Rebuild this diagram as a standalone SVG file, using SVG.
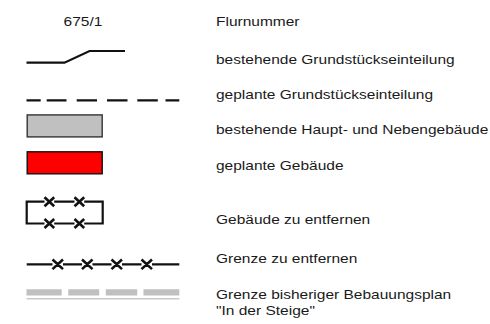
<svg xmlns="http://www.w3.org/2000/svg" width="490" height="324" viewBox="0 0 490 324">
<style>
.t{font-family:"Liberation Sans",Arial,sans-serif;font-size:12.5px;fill:#1a1a1a}
.ln{fill:none;stroke:#111;stroke-width:2.2}
.x{fill:none;stroke:#111;stroke-width:2.6}
</style>
<rect width="490" height="324" fill="#fff"/>
<g id="flurnummer">
<g transform="translate(83 26) scale(1.24 1)"><text class="t" x="0" y="0" text-anchor="middle">675/1</text></g>
<g transform="translate(216 25.7) scale(1.24 1)"><text class="t" x="0" y="0">Flurnummer</text></g>
</g>
<g id="bestehende-grenze">
<path class="ln" d="M26.5 62.7H64.5L89.5 51H125"/>
<g transform="translate(216 64) scale(1.24 1)"><text class="t" x="0" y="0">bestehende Grundstückseinteilung</text></g>
</g>
<g id="geplante-grenze">
<path class="ln" d="M26.5 100.3H40.7M46.7 100.3H66.5M76.7 100.3H97M107 100.3H127.5M137.3 100.3H157.8M165.5 100.3H179.3"/>
<g transform="translate(216 99) scale(1.24 1)"><text class="t" x="0" y="0">geplante Grundstückseinteilung</text></g>
</g>
<g id="bestehende-gebaeude">
<rect x="27.2" y="114.9" width="75" height="22" fill="#c0c0c0" stroke="#333" stroke-width="1.4"/>
<g transform="translate(216 134.2) scale(1.24 1)"><text class="t" x="0" y="0">bestehende Haupt- und Nebengebäude</text></g>
</g>
<g id="geplante-gebaeude">
<rect x="27.2" y="151.8" width="75" height="22" fill="#ff0000" stroke="#111" stroke-width="1.4"/>
<g transform="translate(216 169.5) scale(1.24 1)"><text class="t" x="0" y="0">geplante Gebäude</text></g>
</g>
<g id="gebaeude-entfernen">
<path class="ln" d="M44.5 201.7H26.7V223.5H44.5M54.2 201.7H74.5M84.2 201.7H102.7V223.5H84.2M54.2 223.5H74.5"/>
<path class="x" d="M44.5 197.2L54.2 206.2M54.2 197.2L44.5 206.2M74.5 197.2L84.2 206.2M84.2 197.2L74.5 206.2M44.5 219L54.2 228M54.2 219L44.5 228M74.5 219L84.2 228M84.2 219L74.5 228"/>
<g transform="translate(216 224.3) scale(1.24 1)"><text class="t" x="0" y="0">Gebäude zu entfernen</text></g>
</g>
<g id="grenze-entfernen">
<path class="ln" d="M26.7 264.3H52.5M63 264.3H82M92.5 264.3H111.5M122 264.3H141.5M152 264.3H179.3"/>
<path class="x" d="M52.5 259.5L63 269.1M63 259.5L52.5 269.1M82 259.5L92.5 269.1M92.5 259.5L82 269.1M111.5 259.5L122 269.1M122 259.5L111.5 269.1M141.5 259.5L152 269.1M152 259.5L141.5 269.1"/>
<g transform="translate(216 262.7) scale(1.24 1)"><text class="t" x="0" y="0">Grenze zu entfernen</text></g>
</g>
<g id="grenze-bisheriger">
<path d="M26.5 292.4H61.7M68.3 292.4H99.2M105.8 292.4H137.2M143.5 292.4H179.3" fill="none" stroke="#c0c0c0" stroke-width="6.2"/>
<path d="M26.5 298.8H179.3" fill="none" stroke="#cacaca" stroke-width="1.6"/>
<g transform="translate(216 299) scale(1.24 1)"><text class="t" x="0" y="0">Grenze bisheriger Bebauungsplan</text></g>
<g transform="translate(216 314.5) scale(1.24 1)"><text class="t" x="0" y="0">"In der Steige"</text></g>
</g>
</svg>
